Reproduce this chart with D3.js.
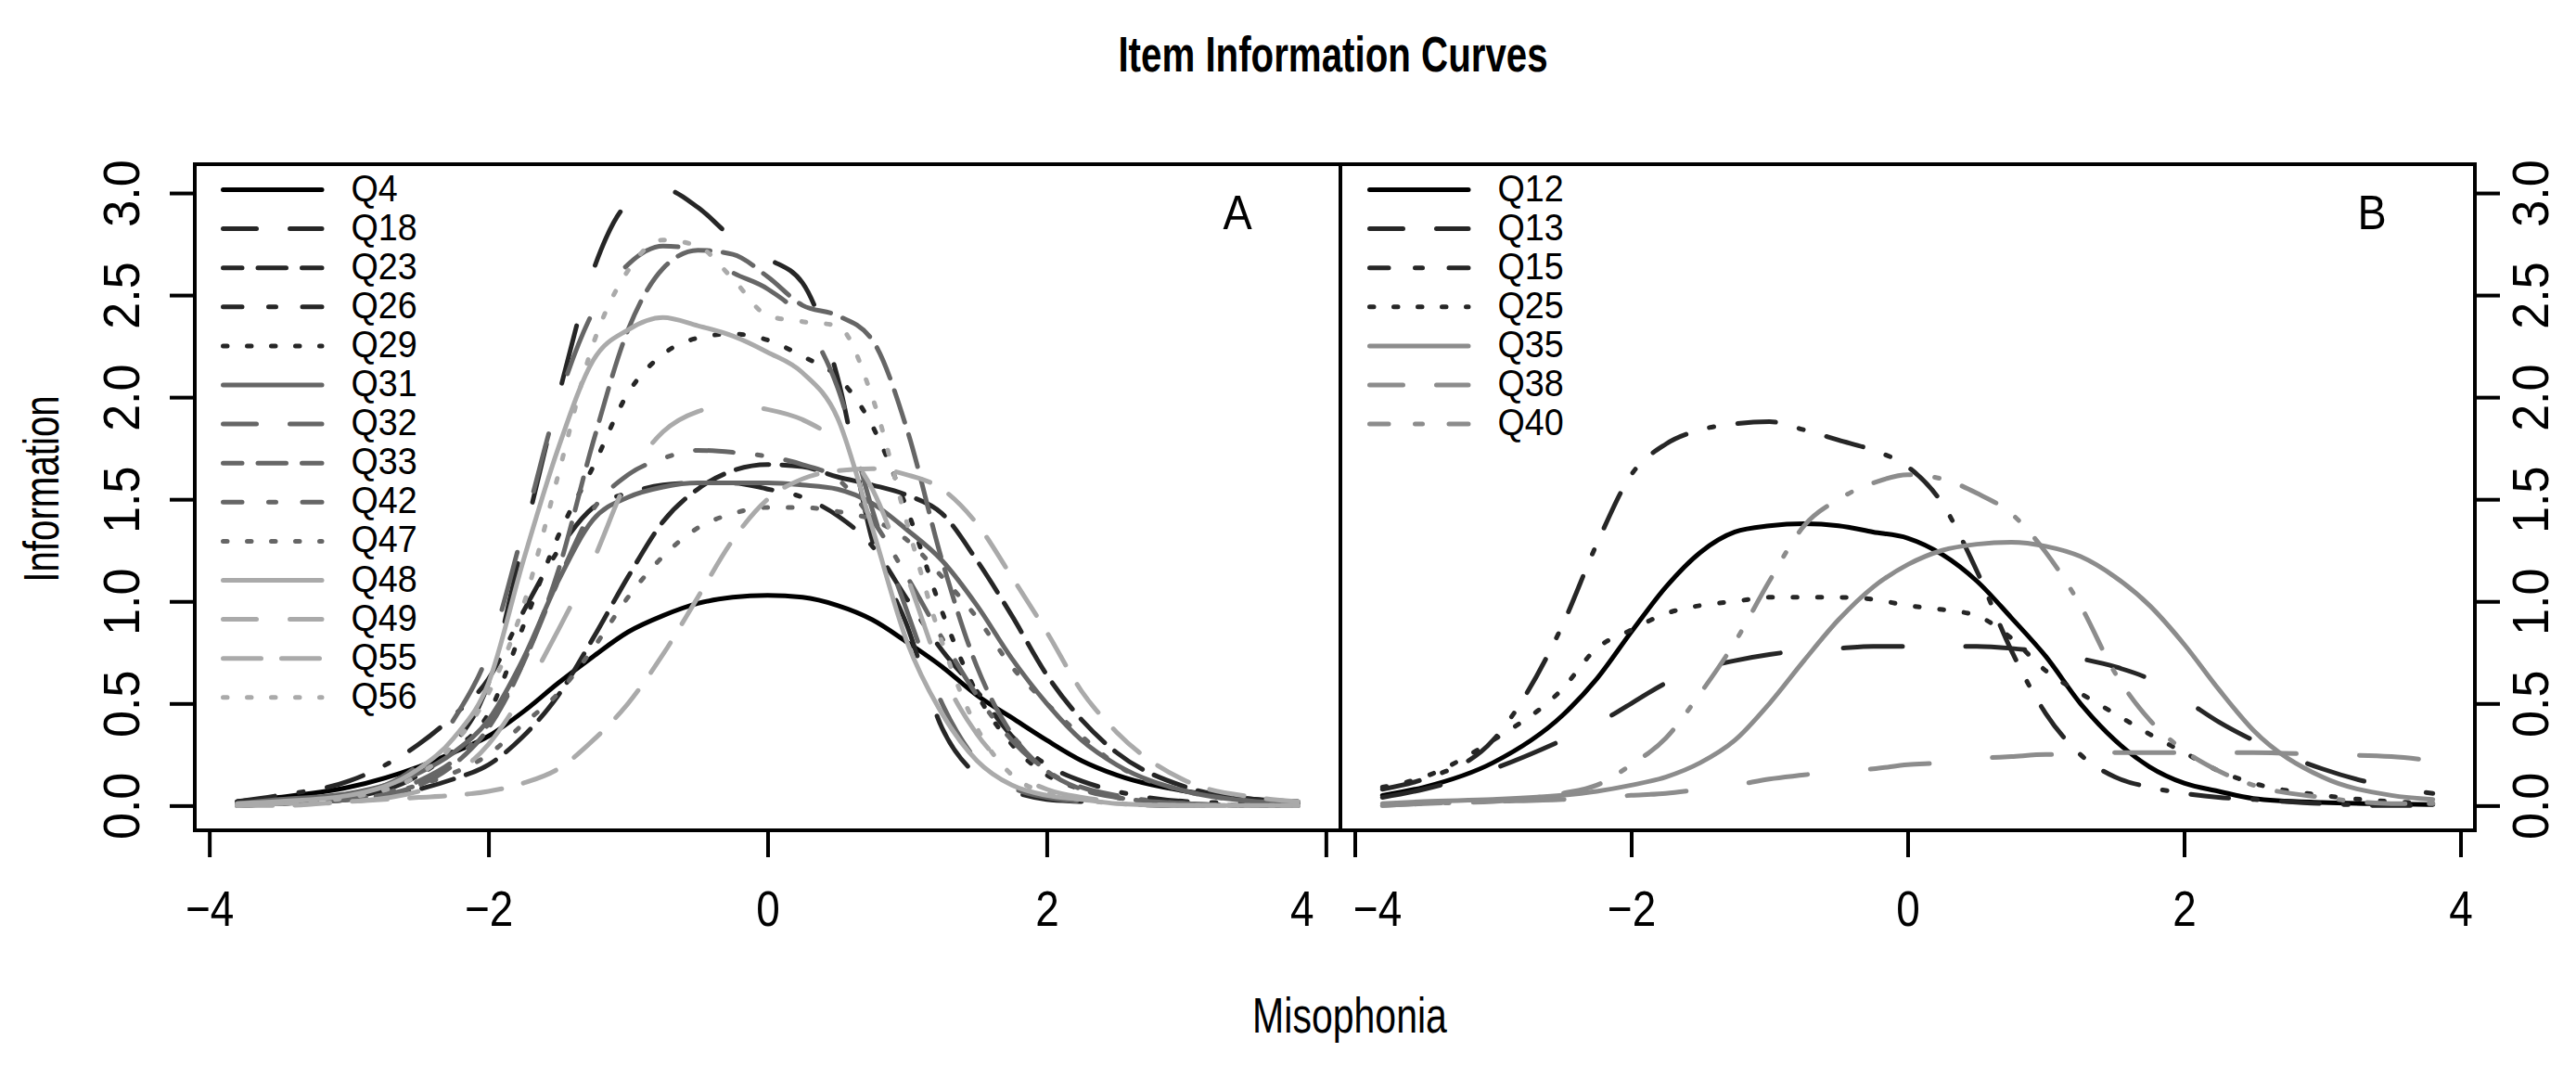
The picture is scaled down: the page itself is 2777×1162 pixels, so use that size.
<!DOCTYPE html>
<html>
<head>
<meta charset="utf-8">
<script src="https://cdn.jsdelivr.net/npm/d3@7"></script>
<style>
  body { margin: 0; background: #fff; }
  text { font-family: "Liberation Sans", Arial, sans-serif; fill: #000; }
</style>
</head>
<body>
<svg id="chart"></svg>
<script>
// theta grid shared by every curve
const THETA = [-3.8, -3.5, -3, -2.5, -2.25, -2, -1.75, -1.5, -1.25, -1, -0.75, -0.5, -0.25,
               0, 0.25, 0.5, 0.75, 1, 1.25, 1.5, 1.75, 2, 2.25, 2.5, 3, 3.5, 3.8];

// panel A items
const Q4  = [0.02,0.04,0.09,0.19,0.26,0.34,0.46,0.60,0.73,0.85,0.93,0.99,1.02,1.03,1.02,0.98,0.91,0.80,0.68,0.54,0.43,0.32,0.22,0.15,0.07,0.03,0.02];
const Q18 = [0.00,0.01,0.04,0.15,0.30,0.60,1.30,2.00,2.62,2.95,3.02,2.93,2.78,2.68,2.56,2.10,1.30,0.88,0.38,0.15,0.07,0.03,0.02,0.01,0.00,0.00,0.00];
const Q23 = [0.00,0.01,0.03,0.08,0.13,0.20,0.34,0.54,0.82,1.12,1.39,1.55,1.64,1.67,1.66,1.61,1.57,1.52,1.43,1.20,0.93,0.64,0.42,0.26,0.09,0.03,0.01];
const Q26 = [0.02,0.05,0.12,0.30,0.44,0.62,0.95,1.25,1.46,1.53,1.57,1.58,1.58,1.55,1.51,1.42,1.27,1.01,0.76,0.56,0.34,0.20,0.12,0.07,0.02,0.01,0.00];
const Q29 = [0.01,0.02,0.05,0.15,0.27,0.45,0.88,1.32,1.66,2.02,2.21,2.29,2.31,2.28,2.20,2.10,1.86,1.45,0.95,0.55,0.30,0.15,0.08,0.04,0.01,0.00,0.00];
const Q31 = [0.01,0.03,0.06,0.16,0.26,0.42,0.72,1.10,1.40,1.51,1.56,1.58,1.58,1.58,1.57,1.55,1.48,1.35,1.20,0.98,0.72,0.50,0.32,0.20,0.07,0.02,0.01];
const Q32 = [0.00,0.01,0.05,0.20,0.42,0.75,1.35,1.98,2.42,2.65,2.74,2.72,2.61,2.53,2.38,2.05,1.45,0.95,0.50,0.22,0.09,0.04,0.02,0.01,0.00,0.00,0.00];
const Q33 = [0.00,0.01,0.03,0.10,0.20,0.38,0.70,1.15,1.78,2.33,2.63,2.72,2.70,2.59,2.45,2.40,2.28,1.84,1.20,0.68,0.35,0.17,0.08,0.04,0.01,0.00,0.00];
const Q42 = [0.00,0.01,0.03,0.12,0.22,0.40,0.70,1.10,1.45,1.62,1.70,1.74,1.73,1.71,1.67,1.60,1.40,1.12,0.82,0.54,0.32,0.17,0.09,0.05,0.01,0.00,0.00];
const Q47 = [0.01,0.02,0.04,0.10,0.16,0.25,0.40,0.55,0.77,1.02,1.22,1.36,1.43,1.46,1.46,1.44,1.40,1.30,1.12,0.92,0.68,0.50,0.34,0.20,0.07,0.02,0.01];
const Q48 = [0.01,0.02,0.05,0.18,0.33,0.60,1.20,1.75,2.18,2.33,2.39,2.35,2.30,2.22,2.12,1.90,1.36,0.80,0.45,0.22,0.10,0.05,0.03,0.01,0.00,0.00,0.00];
const Q49 = [0.00,0.01,0.02,0.07,0.15,0.30,0.55,0.86,1.20,1.60,1.83,1.93,1.96,1.94,1.89,1.78,1.55,1.12,0.65,0.35,0.17,0.08,0.04,0.02,0.00,0.00,0.00];
const Q55 = [0.00,0.00,0.02,0.04,0.05,0.07,0.11,0.18,0.32,0.50,0.74,1.02,1.30,1.50,1.60,1.64,1.65,1.62,1.55,1.38,1.12,0.85,0.56,0.36,0.12,0.04,0.02];
const Q56 = [0.00,0.01,0.04,0.15,0.30,0.55,0.98,1.62,2.26,2.62,2.77,2.74,2.58,2.40,2.37,2.35,2.00,1.38,0.80,0.38,0.15,0.06,0.03,0.01,0.00,0.00,0.00];

// panel B items
const Q12 = [0.05,0.09,0.21,0.44,0.62,0.85,1.07,1.24,1.34,1.37,1.38,1.37,1.34,1.31,1.23,1.10,0.92,0.73,0.50,0.32,0.19,0.11,0.07,0.035,0.015,0.008,0.005];
const Q13 = [0.04,0.08,0.18,0.32,0.40,0.50,0.60,0.67,0.71,0.74,0.76,0.77,0.78,0.78,0.78,0.78,0.77,0.75,0.72,0.68,0.62,0.52,0.41,0.32,0.18,0.09,0.06];
const Q15 = [0.08,0.13,0.32,0.88,1.28,1.62,1.77,1.84,1.87,1.88,1.84,1.79,1.74,1.66,1.48,1.15,0.76,0.45,0.25,0.14,0.09,0.06,0.04,0.03,0.01,0.00,0.00];
const Q25 = [0.09,0.14,0.32,0.57,0.77,0.86,0.94,0.98,1.00,1.02,1.02,1.02,1.01,0.98,0.96,0.93,0.82,0.66,0.55,0.45,0.35,0.26,0.17,0.11,0.05,0.02,0.01];
const Q35 = [0.01,0.02,0.03,0.05,0.07,0.10,0.14,0.21,0.32,0.50,0.71,0.91,1.07,1.18,1.25,1.28,1.29,1.27,1.22,1.12,0.98,0.79,0.57,0.37,0.14,0.05,0.03];
const Q38 = [0.00,0.01,0.02,0.03,0.04,0.05,0.06,0.08,0.10,0.13,0.15,0.17,0.18,0.20,0.21,0.23,0.24,0.25,0.25,0.26,0.26,0.26,0.26,0.26,0.25,0.24,0.22];
const Q40 = [0.00,0.01,0.02,0.06,0.10,0.20,0.33,0.55,0.80,1.10,1.37,1.50,1.58,1.62,1.60,1.53,1.43,1.24,0.98,0.65,0.42,0.27,0.17,0.10,0.04,0.01,0.01];

const NAMES_A = ["Q4", "Q18", "Q23", "Q26", "Q29", "Q31", "Q32", "Q33", "Q42", "Q47", "Q48", "Q49", "Q55", "Q56"];
const VALUES_A = [Q4, Q18, Q23, Q26, Q29, Q31, Q32, Q33, Q42, Q47, Q48, Q49, Q55, Q56];
const NAMES_B = ["Q12", "Q13", "Q15", "Q25", "Q35", "Q38", "Q40"];
const VALUES_B = [Q12, Q13, Q15, Q25, Q35, Q38, Q40];

const X_TICKS = [-4, -2, 0, 2, 4];
const Y_TICKS = [0, 0.5, 1, 1.5, 2, 2.5, 3];

// line styles: colour + dash kind
const BLACK = "#000", DARK = "#262626", MID = "#666", LIGHT = "#aaa", MIDB = "#8c8c8c";
const STYLE_A = [
  [BLACK, "solid"], [DARK, "long"], [DARK, "dash"], [DARK, "dotdash"], [DARK, "dot"],
  [MID, "solid"], [MID, "long"], [MID, "dash"], [MID, "dotdash"], [MID, "dot"],
  [LIGHT, "solid"], [LIGHT, "long"], [LIGHT, "mid"], [LIGHT, "dot"]
];
const STYLE_B = [
  [BLACK, "solid"], [DARK, "long"], [DARK, "dotdash"], [DARK, "dot"],
  [MIDB, "solid"], [MIDB, "long"], [MIDB, "dotdash"]
];
// dash patterns on the curves and in the legend samples (legend ones are shorter)
const DASH_CURVE = { solid: null, long: "64 68", dash: "36 14", dotdash: "41 26 5 26", dot: "4.5 22", mid: "38 24" };
const DASH_LEG = {
  solid: [null, 0], long: ["36 36", 0], dash: ["30.5 17", 10],
  dotdash: ["8 28.5 41 28.5", 57], dot: ["4.5 21.5", 0], mid: ["41 22", 0]
};

const W = 2777, H = 1162;
const TOP = 177, BOTTOM = 895;
const LW = 5;

const svg = d3.select("#chart").attr("width", W).attr("height", H);
svg.append("rect").attr("width", W).attr("height", H).attr("fill", "#fff");

const y = d3.scaleLinear().domain([-0.121, 3.141]).range([BOTTOM, TOP]);

// text squeezed horizontally to look like the narrow face of the original
function label(parent, x, yy, str, size, sx, rot, weight) {
  return parent.append("text")
    .attr("transform", `translate(${x},${yy}) rotate(${rot || 0}) scale(${sx},1)`)
    .attr("text-anchor", "middle")
    .attr("font-size", size)
    .attr("font-weight", weight || "normal")
    .text(str);
}

function panel(x0, x1, names, values, styles, tag, legX, yAxisSide) {
  const x = d3.scaleLinear().domain([-4.104, 4.104]).range([x0, x1]);
  const g = svg.append("g");

  const line = d3.line()
    .x((d, i) => x(THETA[i]))
    .y(d => y(d))
    .curve(d3.curveMonotoneX);

  values.forEach((vals, k) => {
    const [col, kind] = styles[k];
    g.append("path")
      .attr("d", line(vals))
      .attr("fill", "none")
      .attr("stroke", col)
      .attr("stroke-width", LW)
      .attr("stroke-linecap", "round")
      .attr("stroke-linejoin", "round")
      .attr("stroke-dasharray", DASH_CURVE[kind]);
  });

  // box
  g.append("rect")
    .attr("x", x0).attr("y", TOP)
    .attr("width", x1 - x0).attr("height", BOTTOM - TOP)
    .attr("fill", "none").attr("stroke", "#000").attr("stroke-width", 4);

  // x axis
  const left = yAxisSide === "left";
  const xa = g.append("g").attr("transform", `translate(0,${BOTTOM})`)
    .call(d3.axisBottom(x).tickValues(X_TICKS).tickSize(29).tickFormat(d3.format("d")));
  xa.select(".domain").remove();
  xa.selectAll("line").attr("stroke", "#000").attr("stroke-width", 4);
  xa.selectAll("text")
    .attr("y", null).attr("dy", null)
    .attr("transform", d => {
      // the two labels that meet at the panel join are pushed apart, as in the original
      let dx = 0;
      if (left && d === 4) dx = -26;
      if (!left && d === -4) dx = 24;
      return `translate(${dx},103) scale(0.85,1)`;
    })
    .attr("font-size", 54).attr("fill", "#000")
    .style("font-family", "'Liberation Sans', Arial, sans-serif");

  // y axis
  const axis = left ? d3.axisLeft(y) : d3.axisRight(y);
  const ya = g.append("g").attr("transform", `translate(${left ? x0 : x1},0)`)
    .call(axis.tickValues(Y_TICKS).tickSize(27).tickFormat(d3.format(".1f")));
  ya.select(".domain").remove();
  ya.selectAll("line").attr("stroke", "#000").attr("stroke-width", 4);
  ya.selectAll("text")
    .attr("x", null).attr("dy", null)
    .attr("text-anchor", "middle")
    .attr("transform", `translate(${left ? -60 : 79},0) rotate(-90) scale(0.93,1)`)
    .attr("font-size", 56).attr("fill", "#000")
    .style("font-family", "'Liberation Sans', Arial, sans-serif");

  // panel tag
  label(g, x1 - 111, 247, tag, 52, 0.9);

  // legend
  const lg = g.append("g");
  names.forEach((nm, k) => {
    const [col, kind] = styles[k];
    const ry = 204.5 + k * 42.1;
    const [da, off] = DASH_LEG[kind];
    lg.append("line")
      .attr("x1", legX).attr("x2", legX + 106.5)
      .attr("y1", ry).attr("y2", ry)
      .attr("stroke", col).attr("stroke-width", LW)
      .attr("stroke-linecap", "round")
      .attr("stroke-dasharray", da)
      .attr("stroke-dashoffset", off);
    label(lg, legX + 138, ry + 12, nm, 41, 0.92).attr("text-anchor", "start");
  });
}

panel(210, 1445, NAMES_A, VALUES_A, STYLE_A, "A", 240.5, "left");
panel(1445, 2668, NAMES_B, VALUES_B, STYLE_B, "B", 1476.5, "right");

// titles
label(svg, 1437, 77, "Item Information Curves", 53, 0.76, 0, "bold");
label(svg, 1455, 1113, "Misophonia", 54, 0.76);
label(svg, 63, 527, "Information", 53, 0.76, -90);
</script>
</body>
</html>
